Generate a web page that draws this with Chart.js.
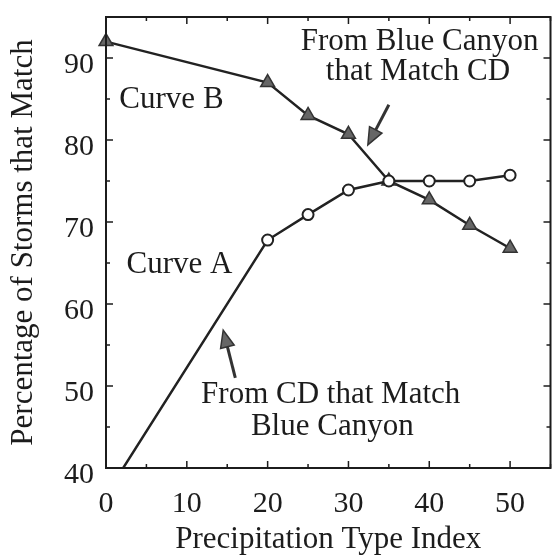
<!DOCTYPE html>
<html>
<head>
<meta charset="utf-8">
<script src="https://cdn.jsdelivr.net/npm/chart.js@4.4.0/dist/chart.umd.min.js"></script>
<style>
  html, body { margin: 0; padding: 0; background: #fff; }
  #wrap { width: 560px; height: 556px; }
</style>
</head>
<body>
<div id="wrap"><canvas id="c" width="560" height="556"></canvas></div>
<script>
// ---- data ----
const xValuesA = [0, 20, 25, 30, 35, 40, 45, 50];
const curveA   = [36.7, 67.8, 70.9, 73.9, 75.0, 75.0, 75.0, 75.7];
const xValuesB = [0, 20, 25, 30, 35, 40, 45, 50];
const curveB   = [92.0, 87.0, 83.0, 80.7, 75.0, 72.7, 69.6, 66.8];
const xTicks = [0, 10, 20, 30, 40, 50];
const yTicks = [40, 50, 60, 70, 80, 90];
const xTitle = 'Precipitation Type Index';
const yTitle = 'Percentage of Storms that Match';

const FONT = '"Liberation Serif", "Times New Roman", serif';
const INK = '#1c1c1c';

// annotations (data coordinates)
const labels = [
  { text: 'Curve B', x: 8.1, y: 84.9 },
  { text: 'Curve A', x: 9.1, y: 64.8 },
  { text: 'From Blue Canyon', x: 38.8, y: 92.0 },
  { text: 'that Match CD', x: 38.6, y: 88.3 },
  { text: 'From CD that Match', x: 27.8, y: 48.9 },
  { text: 'Blue Canyon', x: 28.0, y: 45.0 }
];
const arrows = [
  { x0: 35.0, y0: 84.3, x1: 32.4, y1: 79.4 },
  { x0: 16.0, y0: 51.0, x1: 14.5, y1: 56.8 }
];

const annotPlugin = {
  id: 'annot',
  afterDatasetsDraw(chart) {
    const ctx = chart.ctx, xs = chart.scales.x, ys = chart.scales.y;
    const a = chart.chartArea;
    ctx.save();
    // frame
    ctx.strokeStyle = INK; ctx.lineWidth = 2;
    ctx.strokeRect(a.left, a.top, a.right - a.left, a.bottom - a.top);
    // inward ticks on all four sides
    ctx.lineWidth = 1.5;
    for (let v = 0; v <= 55; v += 5) {
      const px = xs.getPixelForValue(v);
      const len = (v % 10 === 0) ? 7 : 4;
      ctx.beginPath();
      ctx.moveTo(px, a.bottom); ctx.lineTo(px, a.bottom - len);
      ctx.moveTo(px, a.top); ctx.lineTo(px, a.top + len);
      ctx.stroke();
    }
    for (let v = 40; v <= 95; v += 5) {
      const py = ys.getPixelForValue(v);
      const len = (v % 10 === 0) ? 7 : 4;
      ctx.beginPath();
      ctx.moveTo(a.left, py); ctx.lineTo(a.left + len, py);
      ctx.moveTo(a.right, py); ctx.lineTo(a.right - len, py);
      ctx.stroke();
    }
    // labels
    ctx.fillStyle = INK;
    ctx.font = '31px ' + FONT;
    ctx.textAlign = 'center';
    ctx.textBaseline = 'middle';
    labels.forEach(l => {
      ctx.fillText(l.text, xs.getPixelForValue(l.x), ys.getPixelForValue(l.y));
    });
    // arrows
    arrows.forEach(ar => {
      const x0 = xs.getPixelForValue(ar.x0), y0 = ys.getPixelForValue(ar.y0);
      const x1 = xs.getPixelForValue(ar.x1), y1 = ys.getPixelForValue(ar.y1);
      const ang = Math.atan2(y1 - y0, x1 - x0);
      const hl = 17, hw = 7;
      const bx = x1 - hl * Math.cos(ang), by = y1 - hl * Math.sin(ang);
      ctx.strokeStyle = '#333'; ctx.lineWidth = 3;
      ctx.beginPath(); ctx.moveTo(x0, y0); ctx.lineTo(bx, by); ctx.stroke();
      ctx.fillStyle = '#666'; ctx.strokeStyle = '#333'; ctx.lineWidth = 1.5;
      ctx.beginPath();
      ctx.moveTo(x1, y1);
      ctx.lineTo(bx + hw * Math.sin(ang), by - hw * Math.cos(ang));
      ctx.lineTo(bx - hw * Math.sin(ang), by + hw * Math.cos(ang));
      ctx.closePath(); ctx.fill(); ctx.stroke();
    });
    ctx.restore();
  }
};

new Chart(document.getElementById('c'), {
  type: 'line',
  data: {
    datasets: [
      {
        label: 'Curve A',
        data: xValuesA.map((x, i) => ({ x, y: curveA[i] })),
        borderColor: '#222', borderWidth: 2.5,
        pointStyle: 'circle',
        pointRadius: xValuesA.map((x, i) => i === 0 ? 0 : 5.5),
        pointBackgroundColor: '#fff', pointBorderColor: '#222', pointBorderWidth: 2,
        tension: 0
      },
      {
        label: 'Curve B',
        data: xValuesB.map((x, i) => ({ x, y: curveB[i] })),
        borderColor: '#222', borderWidth: 2.5,
        pointStyle: 'triangle', pointRadius: 8,
        pointBackgroundColor: '#666', pointBorderColor: '#333', pointBorderWidth: 1.5,
        tension: 0, clip: false
      }
    ]
  },
  options: {
    responsive: false,
    animation: false,
    events: [],
    layout: { padding: { top: 17, right: 2, left: 0, bottom: 0 } },
    plugins: { legend: { display: false }, tooltip: { enabled: false } },
    scales: {
      x: {
        type: 'linear', min: 0, max: 55,
        afterBuildTicks(s) { s.ticks = xTicks.map(v => ({ value: v })); },
        afterFit(s) { s.height = 88; s.paddingLeft = 0; s.paddingRight = 0; },
        grid: { display: false, drawTicks: false },
        border: { display: false },
        ticks: { color: INK, font: { family: FONT, size: 30 }, padding: 18, maxRotation: 0 },
        title: { display: true, text: xTitle, color: INK, font: { family: FONT, size: 31, lineHeight: 1 }, padding: { top: 0, bottom: 1 } }
      },
      y: {
        type: 'linear', min: 40, max: 95,
        afterBuildTicks(s) { s.ticks = yTicks.map(v => ({ value: v })); },
        afterFit(s) { s.width = 106; s.paddingTop = 0; s.paddingBottom = 0; },
        grid: { display: false, drawTicks: false },
        border: { display: false },
        ticks: {
          color: INK, font: { family: FONT, size: 30, lineHeight: 0.45 }, padding: 12,
          callback: (v) => ['', String(v)]
        },
        title: { display: true, text: yTitle, color: INK, font: { family: FONT, size: 31, lineHeight: 1 }, padding: { top: 8, bottom: 0 } }
      }
    }
  },
  plugins: [annotPlugin]
});
</script>
</body>
</html>
